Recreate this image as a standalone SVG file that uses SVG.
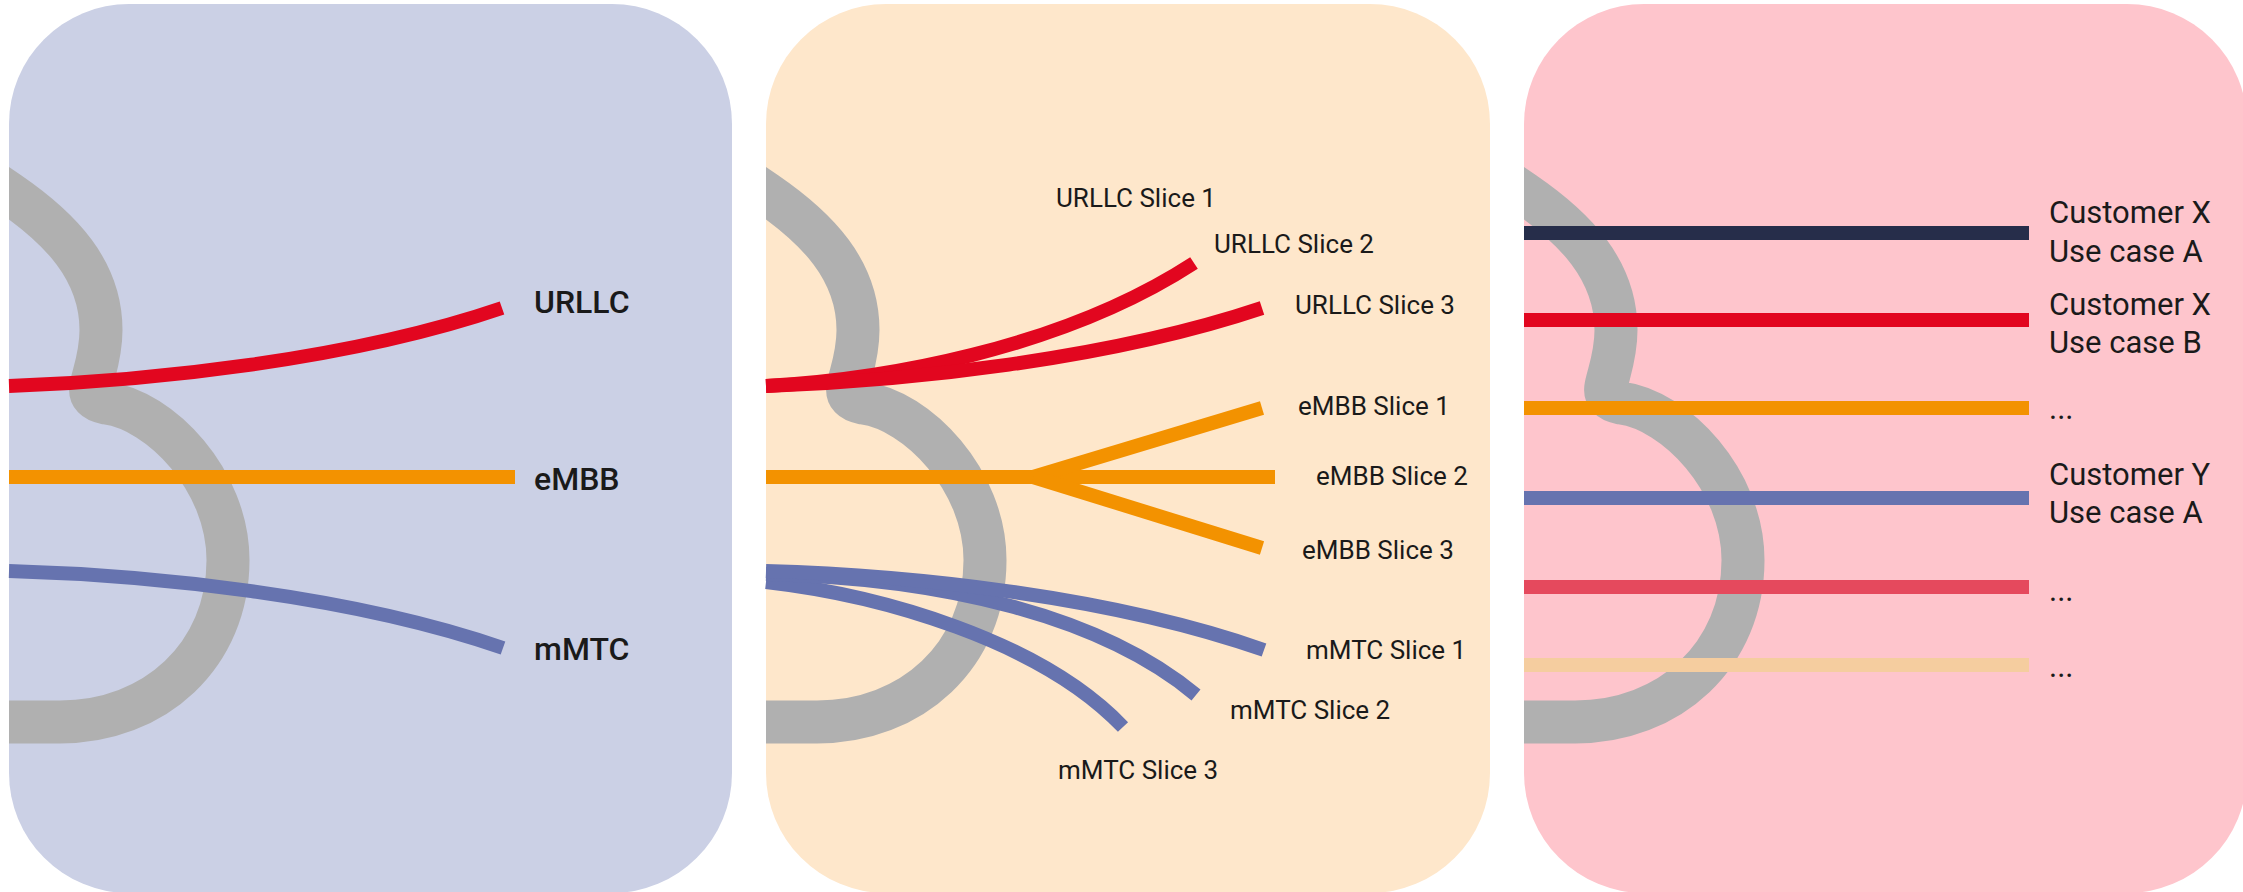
<svg xmlns="http://www.w3.org/2000/svg" xmlns:xlink="http://www.w3.org/1999/xlink" width="2243" height="892" viewBox="0 0 2243 892">
  <style>
    .lobe { fill: none; stroke: #b0b0b0; stroke-width: 43; stroke-linejoin: round; }
    .ln { fill: none; stroke-width: 14; stroke-linecap: butt; }
    .red { stroke: #e2061f; }
    .orange { stroke: #f39200; }
    .blue { stroke: #6673af; }
    .navy { stroke: #262d4a; }
    .rose { stroke: #e5495d; }
    .peach { stroke: #f5cd9f; }
    .big { font-family: Roboto, "Liberation Sans", sans-serif; font-size: 32px; font-weight: 500; fill: #1a1a1a; }
    .mid { font-family: Roboto, "Liberation Sans", sans-serif; font-size: 26px; fill: #1a1a1a; }
    .cust { font-family: Roboto, "Liberation Sans", sans-serif; font-size: 31px; fill: #1a1a1a; }
  </style>
  <defs>
    <!-- grey network outline, drawn relative to a panel's left edge -->
    <path id="lobe" class="lobe" d="M -41 165 L 0 193 C 51 228, 92 270, 92 330 C 92 355, 85 372, 82 386 C 80 396, 86 401, 97 403 C 151 410, 219 480, 219 560 C 219 655, 146 722, 51 722 L -40 722"/>
    <clipPath id="clip1"><rect x="9" y="4" width="723" height="889" rx="120"/></clipPath>
    <clipPath id="clip2"><rect x="766" y="4" width="724" height="889" rx="120"/></clipPath>
    <clipPath id="clip3"><rect x="1524" y="4" width="723" height="889" rx="120"/></clipPath>
  </defs>

  <!-- panel backgrounds with the grey outline -->
  <g id="panel-services">
    <rect x="9" y="4" width="723" height="889" rx="120" fill="#cbd0e5"/>
    <g clip-path="url(#clip1)"><use xlink:href="#lobe" x="9"/></g>
  </g>
  <g id="panel-slices">
    <rect x="766" y="4" width="724" height="889" rx="120" fill="#fee7cb"/>
    <g clip-path="url(#clip2)"><use xlink:href="#lobe" x="766"/></g>
  </g>
  <g id="panel-customers">
    <rect x="1524" y="4" width="723" height="889" rx="120" fill="#fec5cc"/>
    <g clip-path="url(#clip3)"><use xlink:href="#lobe" x="1524"/></g>
  </g>

  <!-- service and slice lines -->
  <g id="connectors">
    <!-- left panel -->
    <path class="ln red" d="M 9 386 C 150 381, 350 360, 502 308"/>
    <path class="ln orange" d="M 9 477 L 515 477"/>
    <path class="ln blue" d="M 9 571 C 150 575, 350 595, 503 648"/>

    <!-- middle panel -->
    <path class="ln red" d="M 766 386 C 880 380, 1060 350, 1194 263"/>
    <path class="ln red" d="M 766 386 C 907 381, 1107 360, 1262 308"/>
    <path class="ln orange" d="M 766 477 L 1275 477"/>
    <path class="ln orange" d="M 1033 477 L 1262 408"/>
    <path class="ln orange" d="M 1033 477 L 1262 548"/>
    <path class="ln blue" d="M 766 582 C 880 595, 1040 640, 1123 727"/>
    <path class="ln blue" d="M 766 574 C 940 578, 1100 615, 1196 695"/>
    <path class="ln blue" d="M 766 571 C 907 575, 1107 595, 1264 650"/>

    <!-- right panel -->
    <path class="ln navy" d="M 1524 233 L 2029 233"/>
    <path class="ln red" d="M 1524 320 L 2029 320"/>
    <path class="ln orange" d="M 1524 408 L 2029 408"/>
    <path class="ln blue" d="M 1524 498 L 2029 498"/>
    <path class="ln rose" d="M 1524 587 L 2029 587"/>
    <path class="ln peach" d="M 1524 665 L 2029 665"/>
  </g>

  <!-- labels -->
  <g id="labels-services">
    <text class="big" x="534" y="313">URLLC</text>
    <text class="big" x="534" y="490">eMBB</text>
    <text class="big" x="534" y="660">mMTC</text>
  </g>
  <g id="labels-slices">
    <text class="mid" x="1056" y="207">URLLC Slice 1</text>
    <text class="mid" x="1214" y="253">URLLC Slice 2</text>
    <text class="mid" x="1295" y="314">URLLC Slice 3</text>
    <text class="mid" x="1298" y="415">eMBB Slice 1</text>
    <text class="mid" x="1316" y="485">eMBB Slice 2</text>
    <text class="mid" x="1302" y="559">eMBB Slice 3</text>
    <text class="mid" x="1306" y="659">mMTC Slice 1</text>
    <text class="mid" x="1230" y="719">mMTC Slice 2</text>
    <text class="mid" x="1058" y="779">mMTC Slice 3</text>
  </g>
  <g id="labels-customers">
    <text class="cust" x="2049" y="223">Customer X</text>
    <text class="cust" x="2049" y="262">Use case A</text>
    <text class="cust" x="2049" y="315">Customer X</text>
    <text class="cust" x="2049" y="353">Use case B</text>
    <text class="cust" x="2049" y="419">...</text>
    <text class="cust" x="2049" y="485">Customer Y</text>
    <text class="cust" x="2049" y="523">Use case A</text>
    <text class="cust" x="2049" y="601">...</text>
    <text class="cust" x="2049" y="677">...</text>
  </g>
</svg>
